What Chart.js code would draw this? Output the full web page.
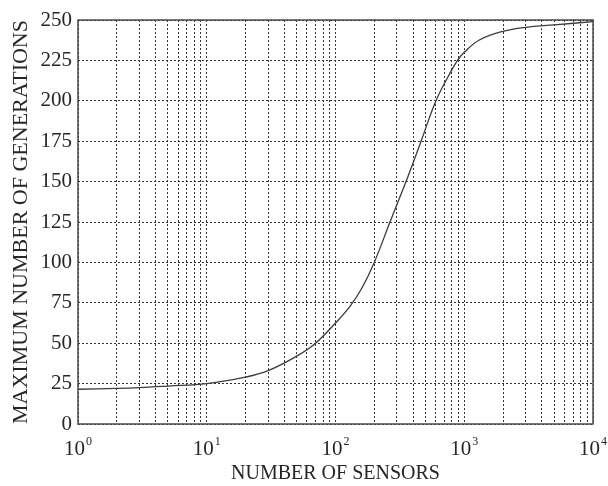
<!DOCTYPE html>
<html>
<head>
<meta charset="utf-8">
<script src="https://cdn.jsdelivr.net/npm/chart.js@4.4.1/dist/chart.umd.min.js"></script>
<style>
  html, body { margin: 0; padding: 0; background: #fff; }
  #wrap { width: 608px; height: 486px; }
</style>
</head>
<body>
<div id="wrap"><canvas id="genChart"></canvas></div>
<script>
// values
const sensors = [1, 2, 3, 5, 10, 20, 30, 50, 70, 100, 130, 160, 200, 265, 353, 462, 603, 750, 887, 1000, 1300, 2000, 3000, 5000, 10000];
const generations = [21.5, 22, 22.5, 23.5, 25, 29, 33, 42, 50, 62.5, 73, 84, 100, 125, 150, 175, 200, 215, 225, 230, 237.5, 243, 245.5, 247, 249];
const decadeExponents = [0, 1, 2, 3, 4];
const yTicks = [0, 25, 50, 75, 100, 125, 150, 175, 200, 225, 250];

const ink = '#262626';
const gridInk = '#333333';
const serif = "'Liberation Serif', 'Times New Roman', serif";

// box around the plot area
const framePlugin = {
  id: 'frame',
  afterDatasetsDraw(chart) {
    const a = chart.chartArea, ctx = chart.ctx;
    ctx.save();
    ctx.strokeStyle = '#4a4a4a';
    ctx.lineWidth = 1.5;
    ctx.strokeRect(a.left, a.top, a.right - a.left, a.bottom - a.top);
    ctx.restore();
  }
};

// 10^n labels with a raised exponent
const powerLabels = {
  id: 'powerLabels',
  afterDraw(chart) {
    const x = chart.scales.x, ctx = chart.ctx;
    const y = chart.chartArea.bottom + 31;
    ctx.save();
    ctx.fillStyle = ink;
    ctx.textBaseline = 'alphabetic';
    ctx.textAlign = 'left';
    decadeExponents.forEach(e => {
      const px = x.getPixelForValue(Math.pow(10, e));
      ctx.font = '21px ' + serif;
      const wBase = ctx.measureText('10').width;
      ctx.font = '12px ' + serif;
      const wExp = ctx.measureText(String(e)).width;
      const start = px - (wBase + wExp + 1) / 2;
      ctx.font = '21px ' + serif;
      ctx.fillText('10', start, y);
      ctx.font = '12px ' + serif;
      ctx.fillText(String(e), start + wBase + 1, y - 10);
    });
    ctx.restore();
  }
};

new Chart(document.getElementById('genChart'), {
  type: 'line',
  data: {
    datasets: [{
      data: sensors.map((s, i) => ({ x: s, y: generations[i] })),
      borderColor: '#3c3c3c',
      borderWidth: 1.3,
      pointRadius: 0,
      fill: false,
      tension: 0.4
    }]
  },
  options: {
    responsive: true,
    maintainAspectRatio: false,
    animation: false,
    layout: { padding: { top: 20, right: 15, left: 8, bottom: 0 } },
    plugins: { legend: { display: false }, tooltip: { enabled: false } },
    scales: {
      x: {
        type: 'logarithmic',
        min: 1,
        max: 10000,
        afterBuildTicks: scale => {
          const t = [];
          decadeExponents.forEach(e => {
            for (let k = 1; k <= 9; k++) {
              const v = k * Math.pow(10, e);
              if (v <= 10000) t.push({ value: v });
            }
          });
          scale.ticks = t;
        },
        afterFit: scale => { scale.height = 62; },
        border: { display: false, dash: [2, 2] },
        grid: { color: gridInk, lineWidth: 1, drawTicks: false },
        ticks: { display: true, autoSkip: false, maxRotation: 0, callback: () => '' },
        title: {
          display: true,
          text: 'NUMBER OF SENSORS',
          color: ink,
          font: { family: serif, size: 20 },
          padding: { top: 0, bottom: 0 }
        }
      },
      y: {
        min: 0,
        max: 250,
        afterBuildTicks: scale => { scale.ticks = yTicks.map(v => ({ value: v })); },
        afterFit: scale => { scale.width = 70; },
        border: { display: false, dash: [2, 2] },
        grid: { color: gridInk, lineWidth: 1, drawTicks: false },
        ticks: {
          color: ink,
          padding: 6,
          font: { family: serif, size: 21 }
        },
        title: {
          display: true,
          text: 'MAXIMUM NUMBER OF GENERATIONS',
          color: ink,
          font: { family: serif, size: 22 },
          padding: { top: 0, bottom: 0 }
        }
      }
    }
  },
  plugins: [framePlugin, powerLabels]
});
</script>
</body>
</html>
